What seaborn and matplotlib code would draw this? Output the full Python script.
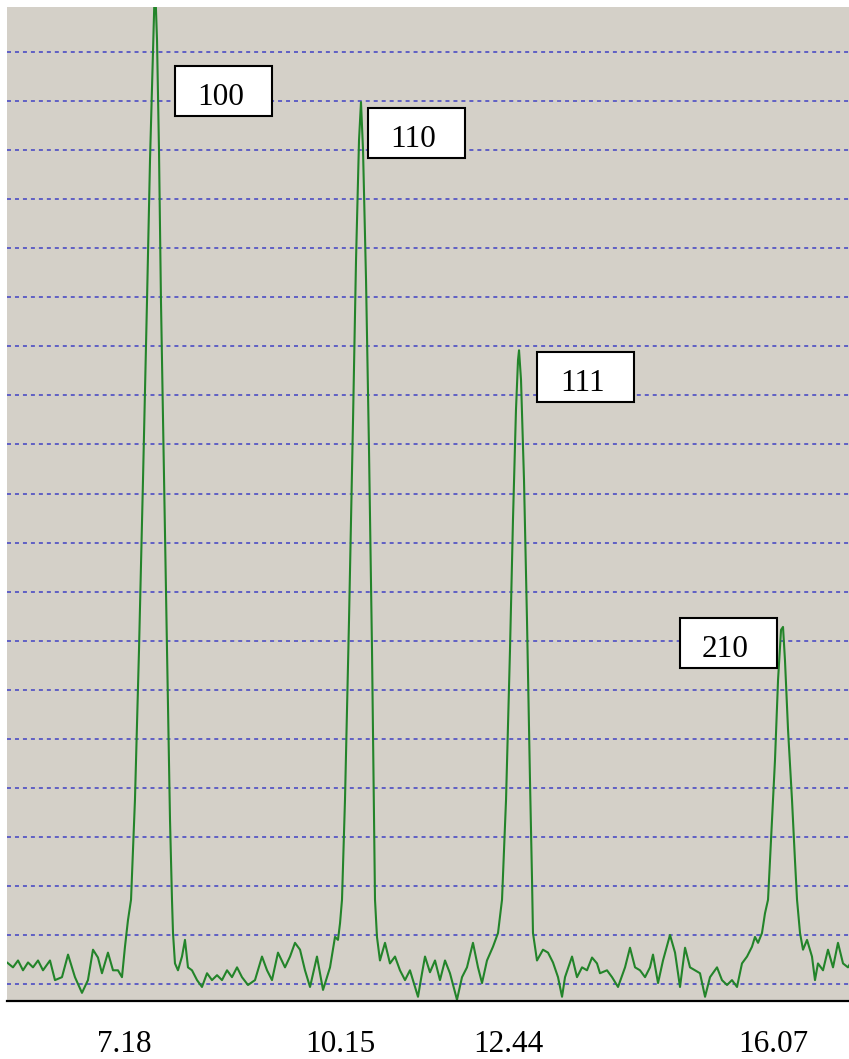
import matplotlib
matplotlib.use("Agg")
import matplotlib.pyplot as plt
from matplotlib.patches import Rectangle
import seaborn as sns

# Diffraction scan: 2-theta (degrees) and intensity (counts)
two_theta = [
    5.536, 5.577, 5.659, 5.728, 5.796, 5.865, 5.933, 6.002, 6.070, 6.166,
    6.234, 6.330, 6.413, 6.508, 6.604, 6.686, 6.755, 6.823, 6.878, 6.960,
    7.029, 7.097, 7.152, 7.193, 7.234, 7.276, 7.330, 7.385, 7.440, 7.495,
    7.536, 7.577, 7.604, 7.632, 7.659, 7.686, 7.728, 7.769, 7.810, 7.837,
    7.851, 7.878, 7.919, 7.974, 8.015, 8.056, 8.111, 8.180, 8.248, 8.317,
    8.385, 8.454, 8.522, 8.591, 8.659, 8.728, 8.796, 8.878, 8.974, 9.070,
    9.139, 9.207, 9.289, 9.385, 9.454, 9.522, 9.591, 9.659, 9.728, 9.823,
    9.906, 10.002, 10.070, 10.111, 10.139, 10.166, 10.207, 10.262, 10.317, 10.358,
    10.399, 10.426, 10.454, 10.495, 10.536, 10.577, 10.604, 10.618, 10.645, 10.686,
    10.755, 10.823, 10.892, 10.960, 11.029, 11.097, 11.166, 11.207, 11.262, 11.303,
    11.371, 11.440, 11.508, 11.577, 11.645, 11.741, 11.810, 11.878, 11.960, 12.029,
    12.084, 12.152, 12.234, 12.303, 12.358, 12.413, 12.467, 12.508, 12.549, 12.577,
    12.591, 12.618, 12.659, 12.700, 12.741, 12.769, 12.782, 12.837, 12.919, 12.988,
    13.056, 13.125, 13.180, 13.221, 13.317, 13.385, 13.454, 13.522, 13.591, 13.659,
    13.700, 13.796, 13.865, 13.947, 14.043, 14.111, 14.180, 14.248, 14.317, 14.385,
    14.426, 14.495, 14.563, 14.659, 14.728, 14.796, 14.865, 14.933, 15.002, 15.070,
    15.139, 15.207, 15.303, 15.371, 15.440, 15.508, 15.577, 15.645, 15.714, 15.782,
    15.823, 15.865, 15.919, 15.960, 16.002, 16.043, 16.097, 16.139, 16.180, 16.207,
    16.234, 16.276, 16.330, 16.371, 16.399, 16.440, 16.481, 16.536, 16.604, 16.645,
    16.686, 16.755, 16.823, 16.892, 16.960, 17.029, 17.097, 17.152,
]
intensity = [
    69, 72, 67, 74, 64, 72, 67, 74, 64, 74,
    54, 57, 80, 57, 41, 54, 85, 77, 61, 82,
    64, 64, 57, 88, 115, 136, 238, 390, 564, 747,
    890, 1002, 1073, 1012, 900, 747, 564, 390, 217, 136,
    102, 71, 64, 78, 95, 67, 64, 54, 47, 61,
    54, 59, 54, 64, 57, 67, 57, 49, 54, 78,
    64, 54, 82, 67, 78, 92, 85, 64, 47, 78,
    44, 67, 98, 95, 112, 136, 238, 421, 625, 788,
    910, 949, 900, 768, 594, 390, 217, 136, 98, 74,
    92, 71, 78, 64, 54, 64, 47, 37, 61, 78,
    62, 74, 54, 74, 61, 34, 57, 67, 92, 67,
    51, 74, 88, 102, 136, 238, 390, 523, 635, 686,
    696, 666, 564, 421, 258, 156, 102, 74, 85, 82,
    72, 57, 37, 57, 78, 57, 67, 64, 77, 71,
    61, 64, 57, 47, 67, 87, 67, 64, 57, 67,
    80, 51, 74, 100, 82, 47, 87, 67, 64, 61,
    37, 57, 67, 54, 49, 54, 47, 71, 78, 88,
    98, 92, 102, 122, 136, 197, 278, 360, 411, 414,
    380, 309, 238, 176, 136, 102, 85, 95, 78, 54,
    71, 64, 85, 67, 92, 71, 67, 74,
]

# Labelled peak positions on the axis
tick_values = [7.18, 10.15, 12.44, 16.07]
tick_labels = ["7.18", "10.15", "12.44", "16.07"]

# Miller indices and the upper-left corner of each label box (2-theta, counts)
hkl_labels = ["100", "110", "111", "210"]
hkl_box_left = [7.878, 10.522, 12.837, 14.796]
hkl_box_top = [985.8, 943.0, 694.3, 423.1]
BOX_W, BOX_H = 1.329, 51.0

sns.set_style("white")
plt.rcParams["font.family"] = ["Liberation Serif", "DejaVu Serif"]

fig = plt.figure(figsize=(8.49, 10.59), dpi=100, facecolor="white")
ax = fig.add_axes([7 / 849, 1 - 1001 / 1059, 842 / 849, 994 / 1059])
ax.set_facecolor("#D4D0C8")

# dotted horizontal guides every 50 counts
for level in range(50, 1001, 50):
    ax.axhline(level, color="#5F5FC4", lw=1.4, ls=(0, (2.05, 2.05)), zorder=1)

sns.lineplot(x=two_theta, y=intensity, ax=ax, sort=False, estimator=None,
             color="#23842A", lw=1.5, zorder=3)

ax.set_xlim(5.577, 17.111)
ax.set_ylim(32.7, 1045.9)

for lab, x0, top in zip(hkl_labels, hkl_box_left, hkl_box_top):
    ax.add_patch(Rectangle((x0, top - BOX_H), BOX_W, BOX_H, facecolor="white",
                           edgecolor="black", lw=1.5, zorder=5))
    clip = Rectangle((x0, top - 37.7), BOX_W, 37.7, transform=ax.transData,
                     facecolor="none", edgecolor="none")
    t = ax.text(x0 + BOX_W / 2 - 0.045, top - 39.8, lab, ha="center",
                va="baseline", fontsize=22.5, color="black", zorder=6)
    t.set_clip_path(clip)

ax.set_xticks(tick_values)
ax.set_xticklabels(tick_labels)
ax.set_yticks([])
ax.tick_params(axis="x", length=0, pad=21, labelsize=22.5, colors="black")
ax.set_xlabel("")
ax.set_ylabel("")

for side in ["top", "left", "right"]:
    ax.spines[side].set_visible(False)
ax.spines["bottom"].set_color("black")
ax.spines["bottom"].set_linewidth(1.6)
ax.spines["bottom"].set_zorder(4)

fig.savefig("out.png", dpi=100, facecolor="white")
